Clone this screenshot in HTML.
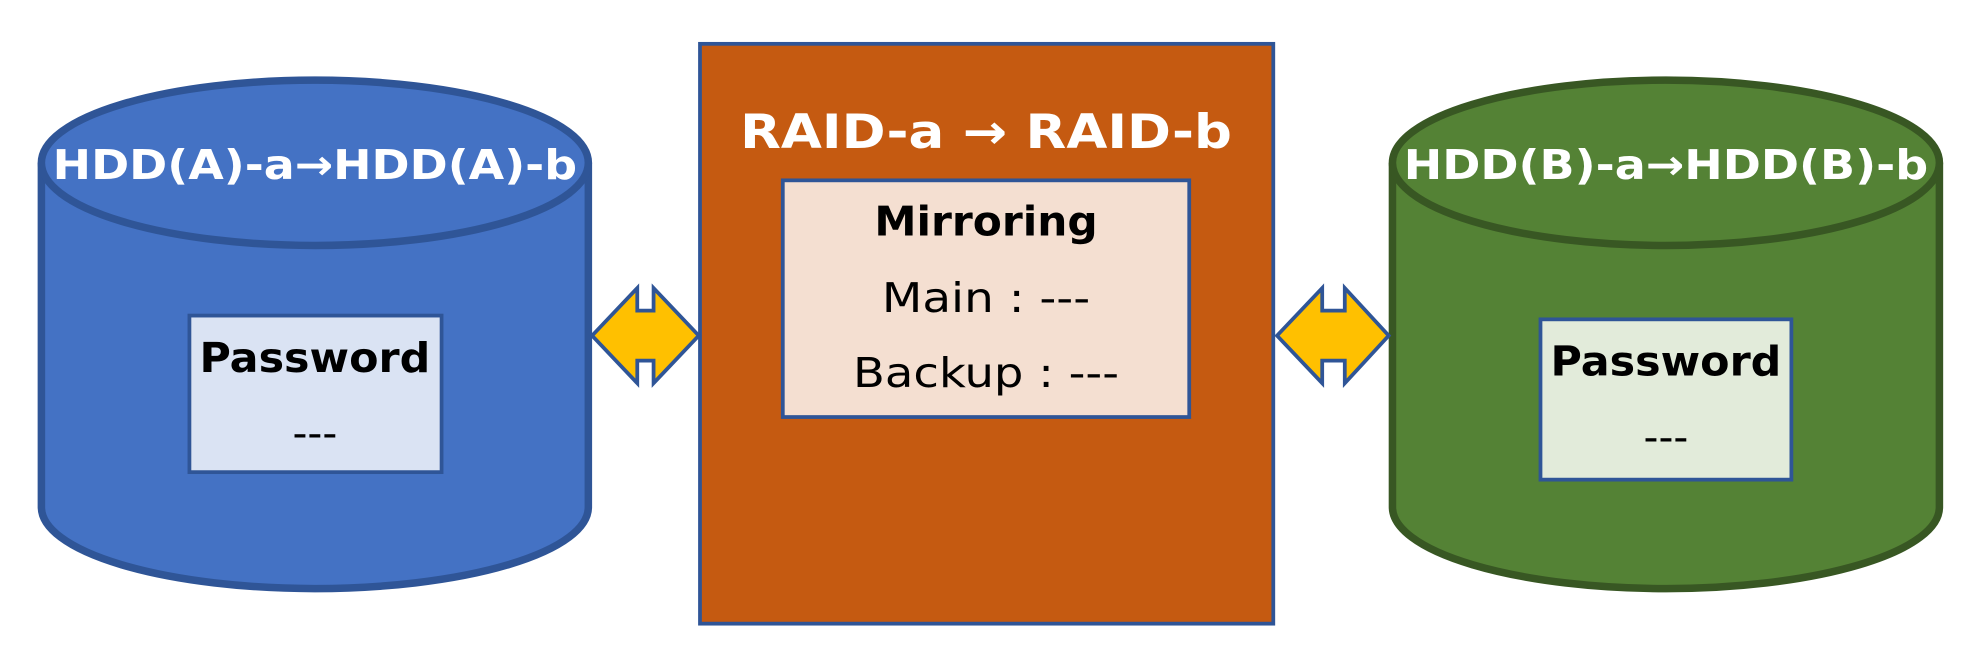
<!DOCTYPE html>
<html><head><meta charset="utf-8"><style>html,body{margin:0;padding:0;background:#fff}svg{display:block}</style></head>
<body>
<svg width="1967" height="670" viewBox="0 0 1568 535" preserveAspectRatio="none" xmlns="http://www.w3.org/2000/svg" font-family="'DejaVu Sans','Liberation Sans',sans-serif">
<!-- left cylinder -->
<path d="M33 130 L33 405 A218 65 0 0 0 469 405 L469 130" fill="#4472C4" stroke="#2F5597" stroke-width="6"/>
<ellipse cx="251" cy="130" rx="218" ry="66" fill="#4472C4" stroke="#2F5597" stroke-width="6"/>
<text x="251" y="143" fill="#fff" font-weight="bold" font-size="33" text-anchor="middle" textLength="418" lengthAdjust="spacingAndGlyphs">HDD(A)-a→HDD(A)-b</text>
<rect x="151" y="252" width="201" height="125" fill="#DAE3F3" stroke="#2F5597" stroke-width="3"/>
<text x="251" y="297" font-weight="bold" font-size="33" text-anchor="middle" textLength="184" lengthAdjust="spacingAndGlyphs">Password</text>
<text x="251" y="357" font-size="33" text-anchor="middle">---</text>
<!-- right cylinder -->
<path d="M1110 130 L1110 405 A218 65 0 0 0 1546 405 L1546 130" fill="#548235" stroke="#385723" stroke-width="6"/>
<ellipse cx="1328" cy="130" rx="218" ry="66" fill="#548235" stroke="#385723" stroke-width="6"/>
<text x="1328" y="143" fill="#fff" font-weight="bold" font-size="33" text-anchor="middle" textLength="418" lengthAdjust="spacingAndGlyphs">HDD(B)-a→HDD(B)-b</text>
<rect x="1228" y="255" width="200" height="128" fill="#E2EBDA" stroke="#2F5597" stroke-width="3"/>
<text x="1328" y="300" font-weight="bold" font-size="33" text-anchor="middle" textLength="184" lengthAdjust="spacingAndGlyphs">Password</text>
<text x="1328" y="360" font-size="33" text-anchor="middle">---</text>
<!-- center -->
<rect x="558" y="35" width="457" height="463" fill="#C55A11" stroke="#2F5597" stroke-width="3"/>
<text x="786" y="118" fill="#fff" font-weight="bold" font-size="38" text-anchor="middle" textLength="392" lengthAdjust="spacingAndGlyphs">RAID-a →  RAID-b</text>
<rect x="624" y="144" width="324" height="189" fill="#F4DFD1" stroke="#2F5597" stroke-width="3"/>
<text x="786" y="188" font-weight="bold" font-size="33" text-anchor="middle" textLength="178" lengthAdjust="spacingAndGlyphs">Mirroring</text>
<text x="786" y="249" font-size="33" text-anchor="middle" textLength="166" lengthAdjust="spacingAndGlyphs">Main : ---</text>
<text x="786" y="309" font-size="33" text-anchor="middle" textLength="212" lengthAdjust="spacingAndGlyphs">Backup : ---</text>
<!-- arrows -->
<path d="M472 268 L508 230 L508 248 L521 248 L521 230 L557 268 L521 306 L521 288 L508 288 L508 306 Z" fill="#FFC000" stroke="#2F5597" stroke-width="3"/>
<path d="M1018 268 L1054 230 L1054 248 L1072 248 L1072 230 L1107 268 L1072 306 L1072 288 L1054 288 L1054 306 Z" fill="#FFC000" stroke="#2F5597" stroke-width="3"/>
</svg>
</body></html>
